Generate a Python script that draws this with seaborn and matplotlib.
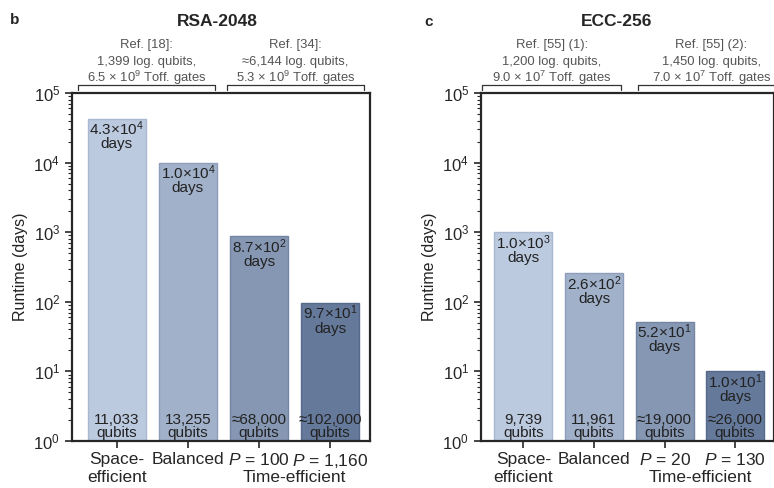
import numpy as np
import pandas as pd
import matplotlib
matplotlib.use("Agg")
import matplotlib.pyplot as plt
import matplotlib.transforms as mtransforms
from matplotlib.ticker import LogLocator, NullFormatter
import seaborn as sns

# данные (читались с картинки)
cats_rsa = ["Space-\nefficient", "Balanced", "$P$ = 100", "$P$ = 1,160"]
runtime_rsa = [4.3e4, 1.0e4, 8.7e2, 9.7e1]
qubits_rsa = ["11,033", "13,255", "≈68,000", "≈102,000"]
refs_rsa = ["Ref. [18]:\n1,399 log. qubits,\n6.5 × 10$^9$ Toff. gates",
            "Ref. [34]:\n≈6,144 log. qubits,\n5.3 × 10$^9$ Toff. gates"]

cats_ecc = ["Space-\nefficient", "Balanced", "$P$ = 20", "$P$ = 130"]
runtime_ecc = [1.0e3, 2.6e2, 5.2e1, 1.0e1]
qubits_ecc = ["9,739", "11,961", "≈19,000", "≈26,000"]
refs_ecc = ["Ref. [55] (1):\n1,200 log. qubits,\n9.0 × 10$^7$ Toff. gates",
            "Ref. [55] (2):\n1,450 log. qubits,\n7.0 × 10$^7$ Toff. gates"]

bar_colors = ["#bccadf", "#a2b1ca", "#8597b3", "#65799b"]
edge_colors = ["#a9b8d0", "#8e9dba", "#7385a3", "#56698b"]

sns.set_style("ticks")
plt.rcParams['font.family'] = ['Liberation Sans', 'DejaVu Sans']
plt.rcParams['mathtext.fontset'] = 'custom'
plt.rcParams['mathtext.rm'] = 'Liberation Sans'
plt.rcParams['mathtext.it'] = 'Liberation Sans:italic'
plt.rcParams['mathtext.bf'] = 'Liberation Sans:bold'

fig = plt.figure(figsize=(7.74, 4.88), dpi=100)
ax1 = fig.add_axes([72 / 774, 1 - 441 / 488, 298 / 774, 348 / 488])
ax2 = fig.add_axes([481 / 774, 1 - 441 / 488, 293 / 774, 348 / 488])


def fmt_runtime(v):
    e = int(np.floor(np.log10(v) + 1e-9))
    m = v / 10 ** e
    return f"{m:.1f}×10$^{{{e}}}$", "days"


def draw_panel(ax, cats, runtime, qubits, refs, bracket_x, xlim):
    df = pd.DataFrame({"cat": cats, "runtime": runtime})
    ax.set_yscale("log")
    sns.barplot(data=df, x="cat", y="runtime", hue="cat", palette=bar_colors,
                legend=False, width=0.82, ax=ax, saturation=1)
    # столбцы от 10^0 (на лог-оси)
    for p in ax.patches:
        i = int(round(p.get_x() + p.get_width() / 2))
        p.set_y(1)
        p.set_height(runtime[i] - 1)
        p.set_edgecolor(edge_colors[i])
        p.set_linewidth(1.0)
    ax.set_ylim(1, 1e5)
    ax.set_xlim(*xlim)
    ax.yaxis.set_major_locator(LogLocator(base=10, numticks=10))
    ax.yaxis.set_minor_locator(LogLocator(base=10, subs=np.arange(2, 10), numticks=10))
    ax.yaxis.set_minor_formatter(NullFormatter())
    ax.tick_params(axis="y", which="major", direction="out", length=5, width=1.2, labelsize=12)
    ax.tick_params(axis="y", which="minor", direction="out", length=3, width=0.8)
    ax.tick_params(axis="x", direction="out", length=5, width=1.2, labelsize=12.5, pad=3)
    ax.set_xlabel("")
    ax.set_ylabel("Runtime (days)", fontsize=11.5, color="#222222")
    for s in ax.spines.values():
        s.set_visible(True)
        s.set_linewidth(1.6)
    # подписи внутри столбцов (по строкам, чтобы шаг был ровный)
    for i, (v, q) in enumerate(zip(runtime, qubits)):
        top1, top2 = fmt_runtime(v)
        ax.annotate(top1, xy=(i, v), xytext=(0, -12), textcoords="offset points",
                    ha="center", va="baseline", fontsize=11, color="#222222")
        ax.annotate(top2, xy=(i, v), xytext=(0, -21.5), textcoords="offset points",
                    ha="center", va="baseline", fontsize=11, color="#222222")
        ax.annotate(q, xy=(i, 1), xytext=(0, 12.5), textcoords="offset points",
                    ha="center", va="baseline", fontsize=11, color="#222222")
        ax.annotate("qubits", xy=(i, 1), xytext=(0, 3), textcoords="offset points",
                    ha="center", va="baseline", fontsize=11, color="#222222")
    trans = mtransforms.blended_transform_factory(ax.transData, ax.transAxes)
    ax.text(2.5, -0.106, "Time-efficient", transform=trans, ha="center", va="center",
            fontsize=12.5)
    # скобки и ссылки сверху
    for (x0, x1), ref in zip(bracket_x, refs):
        ax.plot([x0, x0, x1, x1], [1.009, 1.023, 1.023, 1.009], transform=trans,
                color="#333333", lw=0.9, clip_on=False)
        for k, line in enumerate(ref.split("\n")[::-1]):
            ax.annotate(line, xy=((x0 + x1) / 2, 1.023), xycoords=trans,
                        xytext=(0, 2.5 + 12.2 * k), textcoords="offset points",
                        ha="center", va="baseline", fontsize=9.4, color="#555555",
                        annotation_clip=False)


draw_panel(ax1, cats_rsa, runtime_rsa, qubits_rsa, refs_rsa,
           [(-0.55, 1.38), (1.55, 3.48)], (-0.63, 3.56))
draw_panel(ax2, cats_ecc, runtime_ecc, qubits_ecc, refs_ecc,
           [(-0.58, 1.38), (1.63, 3.70)], (-0.60, 3.55))

fig.text(217 / 774, 1 - 22 / 488, "RSA-2048", ha="center", va="center",
         fontsize=12.5, fontweight="bold")
fig.text(617 / 774, 1 - 22 / 488, "ECC-256", ha="center", va="center",
         fontsize=12.5, fontweight="bold")
fig.text(15 / 774, 1 - 20 / 488, "b", ha="center", va="center", fontsize=11, fontweight="bold")
fig.text(429 / 774, 1 - 22 / 488, "c", ha="center", va="center", fontsize=11, fontweight="bold")

fig.savefig("out.png", dpi=100)
